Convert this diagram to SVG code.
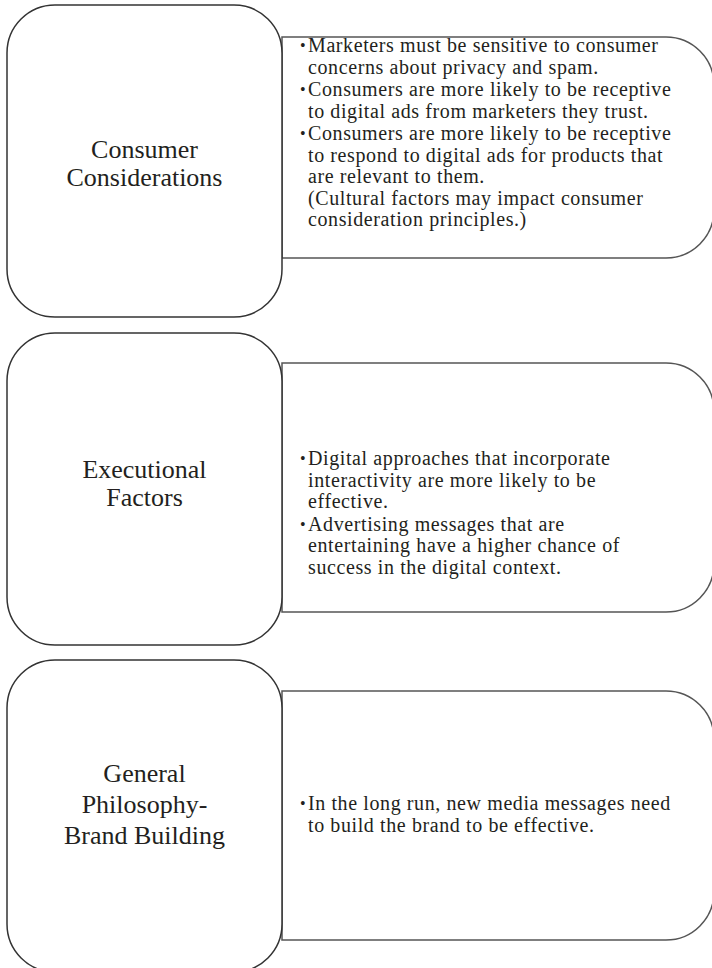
<svg xmlns="http://www.w3.org/2000/svg" width="712" height="968" viewBox="0 0 712 968">
<style>
.lbox{fill:#fff;stroke:#333;stroke-width:1.5}
.rbox{fill:#fff;stroke:#555;stroke-width:1.5}
.lbl{font-family:"Liberation Serif","Times New Roman",serif;font-size:26px;fill:#231f20;text-anchor:middle}
.txt{font-family:"Liberation Serif","Times New Roman",serif;font-size:20px;letter-spacing:0.6px;fill:#231f20}
.bul{font-family:"Liberation Serif","Times New Roman",serif;font-size:16px;fill:#231f20}
</style>
<rect width="712" height="968" fill="#fff"/>
<g id="connectors"></g>
<g id="details1">
<path class="rbox" d="M282,37 H666 A48,48 0 0 1 714,85 V210 A48,48 0 0 1 666,258 H282 Z"/>
<text class="bul" x="300" y="51">•</text>
<text class="txt" x="308" y="52">Marketers must be sensitive to consumer</text>
<text class="txt" x="308" y="73.5">concerns about privacy and spam.</text>
<text class="bul" x="300" y="95">•</text>
<text class="txt" x="308" y="96">Consumers are more likely to be receptive</text>
<text class="txt" x="308" y="117.5">to digital ads from marketers they trust.</text>
<text class="bul" x="300" y="139">•</text>
<text class="txt" x="308" y="140">Consumers are more likely to be receptive</text>
<text class="txt" x="308" y="161.5">to respond to digital ads for products that</text>
<text class="txt" x="308" y="183">are relevant to them.</text>
<text class="txt" x="308" y="204.5">(Cultural factors may impact consumer</text>
<text class="txt" x="308" y="226">consideration principles.)</text>
</g>
<g id="consumer">
<rect class="lbox" x="7" y="5" width="275" height="312" rx="48" ry="48"/>
<text class="lbl" x="144.5" y="157.5">Consumer</text>
<text class="lbl" x="144.5" y="185.5">Considerations</text>
</g>
<g id="details2">
<path class="rbox" d="M282,363 H666 A48,48 0 0 1 714,411 V564 A48,48 0 0 1 666,612 H282 Z"/>
<text class="bul" x="300" y="464">•</text>
<text class="txt" x="308" y="465">Digital approaches that incorporate</text>
<text class="txt" x="308" y="486.5">interactivity are more likely to be</text>
<text class="txt" x="308" y="508">effective.</text>
<text class="bul" x="300" y="529.5">•</text>
<text class="txt" x="308" y="530.5">Advertising messages that are</text>
<text class="txt" x="308" y="552">entertaining have a higher chance of</text>
<text class="txt" x="308" y="573.5">success in the digital context.</text>
</g>
<g id="executional">
<rect class="lbox" x="7" y="333" width="275" height="312" rx="48" ry="48"/>
<text class="lbl" x="144.5" y="477.5">Executional</text>
<text class="lbl" x="144.5" y="505.5">Factors</text>
</g>
<g id="details3">
<path class="rbox" d="M282,691 H666 A48,48 0 0 1 714,739 V892 A48,48 0 0 1 666,940 H282 Z"/>
<text class="bul" x="300" y="809">•</text>
<text class="txt" x="308" y="810">In the long run, new media messages need</text>
<text class="txt" x="308" y="831.5">to build the brand to be effective.</text>
</g>
<g id="general">
<rect class="lbox" x="7" y="660" width="275" height="312" rx="48" ry="48"/>
<text class="lbl" x="144.5" y="782">General</text>
<text class="lbl" x="144.5" y="813">Philosophy-</text>
<text class="lbl" x="144.5" y="844">Brand Building</text>
</g>
</svg>
